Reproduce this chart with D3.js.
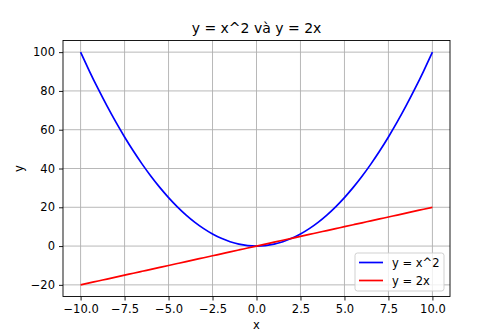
<!DOCTYPE html>
<html>
<head>
<meta charset="utf-8">
<script src="https://cdn.jsdelivr.net/npm/d3@7"></script>
<style>
  body { margin: 0; background: #fff; }
  svg { font-family: "DejaVu Sans", sans-serif; }
</style>
</head>
<body>
<svg id="chart" width="500" height="333"></svg>
<script>
// data
const xs = [-10, -9.5, -9, -8.5, -8, -7.5, -7, -6.5, -6, -5.5, -5, -4.5, -4, -3.5, -3, -2.5, -2, -1.5, -1, -0.5, 0,
            0.5, 1, 1.5, 2, 2.5, 3, 3.5, 4, 4.5, 5, 5.5, 6, 6.5, 7, 7.5, 8, 8.5, 9, 9.5, 10];
const ySquare = [100, 90.25, 81, 72.25, 64, 56.25, 49, 42.25, 36, 30.25, 25, 20.25, 16, 12.25, 9, 6.25, 4, 2.25, 1, 0.25, 0,
                 0.25, 1, 2.25, 4, 6.25, 9, 12.25, 16, 20.25, 25, 30.25, 36, 42.25, 49, 56.25, 64, 72.25, 81, 90.25, 100];
const yDouble = [-20, -19, -18, -17, -16, -15, -14, -13, -12, -11, -10, -9, -8, -7, -6, -5, -4, -3, -2, -1, 0,
                 1, 2, 3, 4, 5, 6, 7, 8, 9, 10, 11, 12, 13, 14, 15, 16, 17, 18, 19, 20];
const xTicks = [-10, -7.5, -5, -2.5, 0, 2.5, 5, 7.5, 10];
const yTicks = [-20, 0, 20, 40, 60, 80, 100];
const seriesNames = ['y = x^2', 'y = 2x'];
const seriesColors = ['#0000ff', '#ff0000'];

const svg = d3.select('#chart');
const margin = { top: 40.5, right: 50, bottom: 36.5, left: 63 };
const width = 500, height = 333;

const x = d3.scaleLinear().domain([-11, 11])
    .range([margin.left, width - margin.right]);
const y = d3.scaleLinear().domain([-26, 106])
    .range([height - margin.bottom, margin.top]);

const minus = s => s.replace('-', '\u2212');

// grid
svg.append('g').selectAll('line').data(xTicks).enter().append('line')
    .attr('x1', d => x(d)).attr('x2', d => x(d))
    .attr('y1', margin.top).attr('y2', height - margin.bottom)
    .attr('stroke', '#b0b0b0').attr('stroke-width', 0.9);
svg.append('g').selectAll('line').data(yTicks).enter().append('line')
    .attr('y1', d => y(d)).attr('y2', d => y(d))
    .attr('x1', margin.left).attr('x2', width - margin.right)
    .attr('stroke', '#b0b0b0').attr('stroke-width', 0.9);

// axes
const xAxis = svg.append('g')
    .attr('transform', `translate(0,${height - margin.bottom})`)
    .call(d3.axisBottom(x).tickValues(xTicks).tickSize(4).tickPadding(4)
        .tickFormat(d => minus(d3.format('.1f')(d))));
const yAxis = svg.append('g')
    .attr('transform', `translate(${margin.left},0)`)
    .call(d3.axisLeft(y).tickValues(yTicks).tickSize(4).tickPadding(4)
        .tickFormat(d => minus(String(d))));
[xAxis, yAxis].forEach(g => {
    g.select('.domain').remove();
    g.selectAll('text').attr('font-size', 11.5).attr('fill', '#000')
        .style('font-family', '"DejaVu Sans", sans-serif');
    g.selectAll('line').attr('stroke', '#000').attr('stroke-width', 0.9);
});

// lines
const pts1 = xs.map((v, i) => [v, ySquare[i]]);
const pts2 = xs.map((v, i) => [v, yDouble[i]]);
const line = d3.line().x(d => x(d[0])).y(d => y(d[1])).curve(d3.curveNatural);
[pts1, pts2].forEach((pts, i) => {
    svg.append('path').datum(pts).attr('d', line)
        .attr('fill', 'none').attr('stroke', seriesColors[i]).attr('stroke-width', 1.7);
});

// frame
svg.append('rect')
    .attr('x', margin.left).attr('y', margin.top)
    .attr('width', width - margin.left - margin.right)
    .attr('height', height - margin.top - margin.bottom)
    .attr('fill', 'none').attr('stroke', '#000').attr('stroke-width', 0.9);

// title and labels
svg.append('text').attr('x', (margin.left + width - margin.right) / 2).attr('y', 33)
    .attr('text-anchor', 'middle').attr('font-size', 14).text('y = x^2 và y = 2x');
svg.append('text').attr('x', (margin.left + width - margin.right) / 2).attr('y', 329)
    .attr('text-anchor', 'middle').attr('font-size', 11.5).text('x');
svg.append('text').attr('transform', `translate(23,${(margin.top + height - margin.bottom) / 2}) rotate(-90)`)
    .attr('text-anchor', 'middle').attr('font-size', 11.5).text('y');

// legend
const lg = svg.append('g').attr('transform', 'translate(355,253)');
lg.append('rect').attr('width', 89).attr('height', 38).attr('rx', 2.5)
    .attr('fill', '#fff').attr('fill-opacity', 0.8).attr('stroke', '#cccccc').attr('stroke-width', 0.9);
seriesNames.forEach((name, i) => {
    const yy = 9.5 + i * 18;
    lg.append('line').attr('x1', 4).attr('x2', 28).attr('y1', yy).attr('y2', yy)
        .attr('stroke', seriesColors[i]).attr('stroke-width', 1.7);
    lg.append('text').attr('x', 37).attr('y', yy + 4).attr('font-size', 11.5).text(name);
});
</script>
</body>
</html>
